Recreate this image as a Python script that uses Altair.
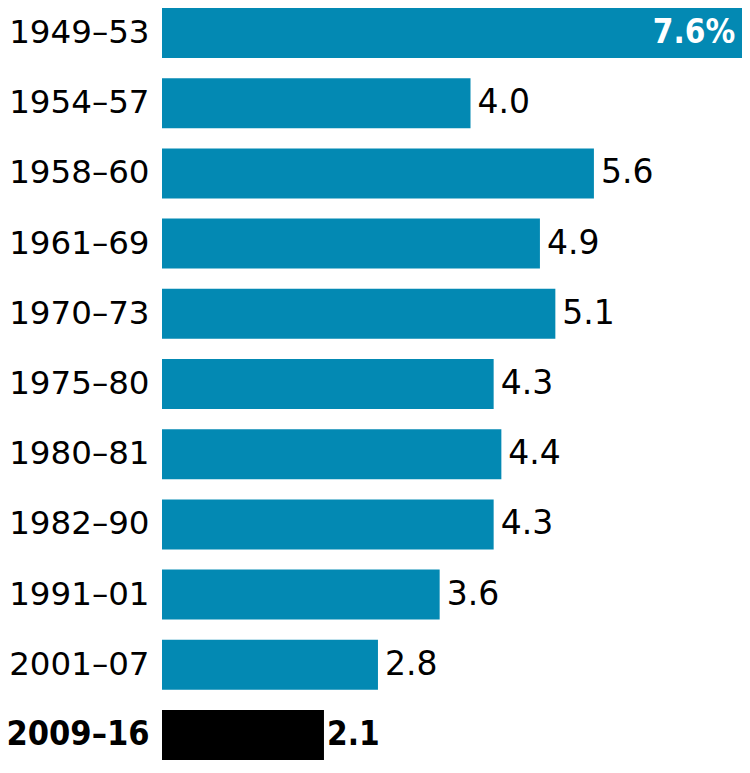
import altair as alt
import pandas as pd

periods = ["1949–53", "1954–57", "1958–60", "1961–69", "1970–73", "1975–80",
           "1980–81", "1982–90", "1991–01", "2001–07", "2009–16"]
values = [7.6, 4.0, 5.6, 4.9, 5.1, 4.3, 4.4, 4.3, 3.6, 2.8, 2.1]
labels = ["7.6%", "4.0", "5.6", "4.9", "5.1", "4.3", "4.4", "4.3", "3.6", "2.8", "2.1"]
highlight = "2009–16"
inside = "1949–53"

df = pd.DataFrame({"period": periods, "value": values, "label": labels})

FONT = "DejaVu Sans"
BOLDFONT = "DejaVu Sans Condensed"
BLUE = "#0389b3"

is_hl = f"datum.value == '{highlight}'"
y = alt.Y("period:N", sort=periods, title=None,
          scale=alt.Scale(paddingInner=0.288, paddingOuter=0),
          axis=alt.Axis(domain=False, ticks=False, grid=False,
                        labelFont=alt.expr(f"{is_hl} ? '{BOLDFONT}' : '{FONT}'"),
                        labelFontSize=alt.expr(f"{is_hl} ? 34 : 32.5"),
                        labelColor="black", labelPadding=13,
                        labelFontWeight=alt.expr(f"{is_hl} ? 'bold' : 'normal'")))
# the longest bar runs off the right edge of the page, as in the reference
x = alt.X("value:Q", title=None, axis=None,
          scale=alt.Scale(domain=[0, 7.52], nice=False, zero=True))

base = alt.Chart(df).encode(y=y, x=x)

bars = base.mark_bar().encode(
    color=alt.condition(alt.datum.period == highlight, alt.value("black"), alt.value(BLUE))
)

outside_text = base.transform_filter(
    (alt.datum.period != inside) & (alt.datum.period != highlight)
).mark_text(
    align="left", baseline="middle", dx=7, font=FONT, fontSize=33, color="black"
).encode(text="label:N")

highlight_text = base.transform_filter(alt.datum.period == highlight).mark_text(
    align="left", baseline="middle", dx=3, font=BOLDFONT, fontSize=33,
    fontWeight="bold", color="black"
).encode(text="label:N")

inside_text = base.transform_filter(alt.datum.period == inside).mark_text(
    align="right", baseline="middle", dx=-13, font=BOLDFONT, fontSize=33,
    fontWeight="bold", color="white"
).encode(text="label:N")

chart = alt.layer(bars, outside_text, highlight_text, inside_text).properties(
    width=580, height=752,
    autosize=alt.AutoSizeParams(type="none"),
    padding={"left": 154, "top": 0, "right": 0, "bottom": 0},
).configure(background="white").configure_view(stroke=None)

chart.save("out.html", embed_options={"renderer": "svg", "actions": False})
